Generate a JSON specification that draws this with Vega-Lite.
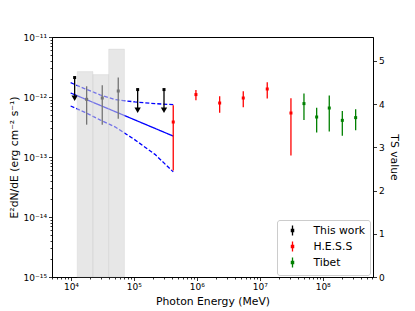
{
  "$schema": "https://vega.github.io/schema/vega-lite/v6.json",
  "width": 321,
  "height": 240,
  "autosize": "none",
  "padding": {"left": 52, "top": 37, "right": 42, "bottom": 34},
  "config": {
    "font": "DejaVu Sans",
    "view": {"stroke": "black", "strokeWidth": 1},
    "axis": {
      "grid": false,
      "domainColor": "black",
      "domainWidth": 1,
      "tickColor": "black",
      "tickWidth": 0.8,
      "labelColor": "black",
      "titleColor": "black",
      "labelFont": "DejaVu Sans",
      "titleFont": "DejaVu Sans",
      "titleFontWeight": "normal",
      "labelFontSize": 9,
      "titleFontSize": 10.8,
      "labelOverlap": false,
      "labelFlush": false
    }
  },
  "datasets": {
    "lines": [
      {"E": 9890, "F": 1.166e-12, "kind": "best"},
      {"E": 60100, "F": 5.28e-13, "kind": "best"},
      {"E": 422300, "F": 2.23e-13, "kind": "best"},
      {"E": 9890, "F": 1.732e-12, "kind": "upper"},
      {"E": 16690, "F": 1.37e-12, "kind": "upper"},
      {"E": 28890, "F": 1.088e-12, "kind": "upper"},
      {"E": 50030, "F": 9.05e-13, "kind": "upper"},
      {"E": 103990, "F": 8.28e-13, "kind": "upper"},
      {"E": 216200, "F": 7.76e-13, "kind": "upper"},
      {"E": 422300, "F": 7.44e-13, "kind": "upper"},
      {"E": 9890, "F": 7.08e-13, "kind": "lower"},
      {"E": 16690, "F": 5.555e-13, "kind": "lower"},
      {"E": 28890, "F": 4.164e-13, "kind": "lower"},
      {"E": 50030, "F": 3.183e-13, "kind": "lower"},
      {"E": 103990, "F": 1.931e-13, "kind": "lower"},
      {"E": 216200, "F": 1.106e-13, "kind": "lower"},
      {"E": 422300, "F": 5.65e-14, "kind": "lower"}
    ],
    "pts": [
      {"src": "This work", "E": 11450, "F": 2.11e-12, "lo": 9.51e-13, "hi": 2.11e-12, "ul": 1},
      {"src": "This work", "E": 17760, "F": 9.15e-13, "lo": 3.46e-13, "hi": 1.51e-12, "ul": 0},
      {"src": "This work", "E": 31440, "F": 9.62e-13, "lo": 3.46e-13, "hi": 1.567e-12, "ul": 0},
      {"src": "This work", "E": 56450, "F": 1.259e-12, "lo": 4.36e-13, "hi": 2.11e-12, "ul": 0},
      {"src": "This work", "E": 114800, "F": 1.33e-12, "lo": 6.04e-13, "hi": 1.33e-12, "ul": 1},
      {"src": "This work", "E": 301000, "F": 1.33e-12, "lo": 6.04e-13, "hi": 1.33e-12, "ul": 1},
      {"src": "H.E.S.S", "E": 422000, "F": 3.83e-13, "lo": 5.98e-14, "hi": 7.27e-13, "ul": 0},
      {"src": "H.E.S.S", "E": 968000, "F": 1.097e-12, "lo": 8.81e-13, "hi": 1.31e-12, "ul": 0},
      {"src": "H.E.S.S", "E": 2307000, "F": 7.94e-13, "lo": 5.49e-13, "hi": 1.027e-12, "ul": 0},
      {"src": "H.E.S.S", "E": 5470000, "F": 9.62e-13, "lo": 6.73e-13, "hi": 1.245e-12, "ul": 0},
      {"src": "H.E.S.S", "E": 13150000, "F": 1.36e-12, "lo": 9.4e-13, "hi": 1.758e-12, "ul": 0},
      {"src": "H.E.S.S", "E": 31300000, "F": 5.41e-13, "lo": 1.064e-13, "hi": 9.51e-13, "ul": 0},
      {"src": "Tibet", "E": 50400000, "F": 7.76e-13, "lo": 4.13e-13, "hi": 1.14e-12, "ul": 0},
      {"src": "Tibet", "E": 80200000, "F": 4.64e-13, "lo": 2.55e-13, "hi": 6.65e-13, "ul": 0},
      {"src": "Tibet", "E": 127200000, "F": 6.55e-13, "lo": 2.65e-13, "hi": 1.055e-12, "ul": 0},
      {"src": "Tibet", "E": 205000000, "F": 4.08e-13, "lo": 2.27e-13, "hi": 5.84e-13, "ul": 0},
      {"src": "Tibet", "E": 334000000, "F": 4.53e-13, "lo": 2.78e-13, "hi": 6.24e-13, "ul": 0}
    ],
    "ts": [
      {"E1": 12589, "E2": 22387, "TS": 4.75},
      {"E1": 22387, "E2": 39811, "TS": 4.68},
      {"E1": 39811, "E2": 70795, "TS": 5.27}
    ]
  },
  "layer": [
    {
      "layer": [
        {
          "data": {"name": "lines"},
          "mark": {"type": "line", "color": "#0000ff", "strokeWidth": 1.3},
          "encoding": {
            "x": {"field": "E", "type": "quantitative", "scale": {"type": "log", "domain": [5000, 630000000]},
              "axis": {"title": "Photon Energy (MeV)",
                "values": [5000,6000,7000,8000,9000,10000,20000,30000,40000,50000,60000,70000,80000,90000,100000,200000,300000,400000,500000,600000,700000,800000,900000,1000000,2000000,3000000,4000000,5000000,6000000,7000000,8000000,9000000,10000000,20000000,30000000,40000000,50000000,60000000,70000000,80000000,90000000,100000000,200000000,300000000,400000000,500000000,600000000],
                "labelExpr": "datum.value == 10000 ? '10⁴' : datum.value == 100000 ? '10⁵' : datum.value == 1000000 ? '10⁶' : datum.value == 10000000 ? '10⁷' : datum.value == 100000000 ? '10⁸' : ''",
                "tickSize": {"condition": {"test": "indexof([10000,100000,1000000,10000000,100000000], datum.value) >= 0", "value": 3.5}, "value": 2},
                "labelPadding": 2, "titlePadding": 4}},
            "y": {"field": "F", "type": "quantitative", "scale": {"type": "log", "domain": [1e-15, 1e-11]},
              "axis": {"title": "E²dN/dE (erg cm⁻² s⁻¹)", "orient": "left",
                "values": [1e-15,2e-15,3e-15,4e-15,5e-15,6e-15,7e-15,8e-15,9e-15,1e-14,2e-14,3e-14,4e-14,5e-14,6e-14,7e-14,8e-14,9e-14,1e-13,2e-13,3e-13,4e-13,5e-13,6e-13,7e-13,8e-13,9e-13,1e-12,2e-12,3e-12,4e-12,5e-12,6e-12,7e-12,8e-12,9e-12,1e-11],
                "labelExpr": "datum.value == 1e-11 ? '10⁻¹¹' : datum.value == 1e-12 ? '10⁻¹²' : datum.value == 1e-13 ? '10⁻¹³' : datum.value == 1e-14 ? '10⁻¹⁴' : datum.value == 1e-15 ? '10⁻¹⁵' : ''",
                "tickSize": {"condition": {"test": "indexof([1e-15,1e-14,1e-13,1e-12,1e-11], datum.value) >= 0", "value": 3.5}, "value": 2},
                "labelPadding": 2, "titlePadding": 4}},
            "strokeDash": {"field": "kind", "type": "nominal", "scale": {"domain": ["best", "upper", "lower"], "range": [[1, 0], [4, 2], [4, 2]]}, "legend": null},
            "detail": {"field": "kind"}
          }
        },
        {
          "data": {"name": "pts"},
          "mark": {"type": "rule", "strokeWidth": 1.3},
          "encoding": {
            "x": {"field": "E", "type": "quantitative", "scale": {"type": "log", "domain": [5000, 630000000]}},
            "y": {"field": "lo", "type": "quantitative", "scale": {"type": "log", "domain": [1e-15, 1e-11]}},
            "y2": {"field": "hi"},
            "color": {"field": "src", "type": "nominal",
              "scale": {"domain": ["This work", "H.E.S.S", "Tibet"], "range": ["black", "red", "green"]},
              "legend": {"title": null, "orient": "none", "legendX": 225, "legendY": 183,
                "symbolType": "M0,-1L0,1M-0.22,-0.22L0.22,-0.22L0.22,0.22L-0.22,0.22Z",
                "symbolSize": 100, "symbolStrokeWidth": 1.3, "symbolOpacity": 1,
                "labelFontSize": 10.8, "labelFont": "DejaVu Sans", "labelColor": "black",
                "labelOffset": 15, "symbolOffset": 5, "rowPadding": 0, "padding": 4.5,
                "strokeColor": "#cccccc", "fillColor": "rgba(255,255,255,0.8)", "cornerRadius": 2.5,
                "encode": {"symbols": {"update": {"fill": {"scale": "color", "field": "value"}, "stroke": {"scale": "color", "field": "value"}}}}}}
          }
        },
        {
          "data": {"name": "pts"},
          "mark": {"type": "point", "shape": "square", "filled": true, "size": 9, "opacity": 1},
          "encoding": {
            "x": {"field": "E", "type": "quantitative", "scale": {"type": "log", "domain": [5000, 630000000]}},
            "y": {"field": "F", "type": "quantitative", "scale": {"type": "log", "domain": [1e-15, 1e-11]}},
            "color": {"field": "src", "type": "nominal", "scale": {"domain": ["This work", "H.E.S.S", "Tibet"], "range": ["black", "red", "green"]}}
          }
        },
        {
          "data": {"name": "pts"},
          "transform": [{"filter": "datum.ul == 1"}],
          "mark": {"type": "point", "shape": "triangle-down", "filled": true, "size": 40, "opacity": 1, "color": "black"},
          "encoding": {
            "x": {"field": "E", "type": "quantitative", "scale": {"type": "log", "domain": [5000, 630000000]}},
            "y": {"field": "lo", "type": "quantitative", "scale": {"type": "log", "domain": [1e-15, 1e-11]}}
          }
        }
      ]
    },
    {
      "data": {"name": "ts"},
      "mark": {"type": "rect", "fill": "lightgray", "fillOpacity": 0.55, "stroke": "#c8c8c8", "strokeWidth": 0.6, "strokeOpacity": 0.5},
      "encoding": {
        "x": {"field": "E1", "type": "quantitative", "scale": {"type": "log", "domain": [5000, 630000000]}},
        "x2": {"field": "E2"},
        "y": {"field": "TS", "type": "quantitative", "scale": {"domain": [0, 5.55], "nice": false, "zero": true},
          "axis": {"title": "TS value", "orient": "right", "values": [0, 1, 2, 3, 4, 5], "tickSize": 3.5, "labelPadding": 2, "titlePadding": 4}},
        "y2": {"datum": 0}
      }
    }
  ],
  "resolve": {"scale": {"y": "independent"}}
}
